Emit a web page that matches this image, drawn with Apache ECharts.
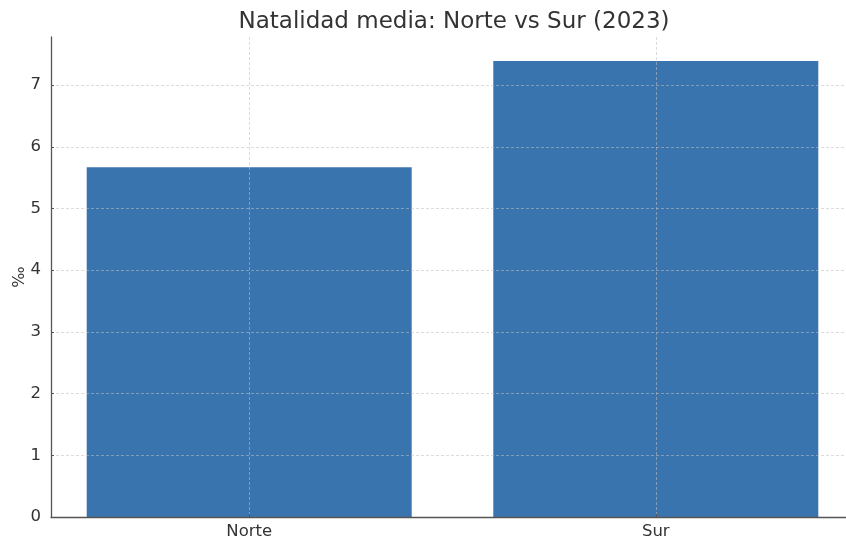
<!DOCTYPE html>
<html>
<head>
<meta charset="utf-8">
<script src="https://cdn.jsdelivr.net/npm/echarts@6/dist/echarts.min.js"></script>
<style>
  html, body { margin: 0; padding: 0; background: #fff; }
</style>
</head>
<body>
<div id="chart" style="width:846px;height:540px"></div>
<script>
  // datos
  var regiones = ['Norte', 'Sur'];
  var natalidad = [5.67, 7.39];
  var ticksY = [0, 1, 2, 3, 4, 5, 6, 7];
  var posX = [0, 1];

  var chart = echarts.init(document.getElementById('chart'));
  var font = 'DejaVu Sans';

  chart.setOption({
    animation: false,
    title: {
      text: 'Natalidad media: Norte vs Sur (2023)',
      left: 449,
      top: 6,
      textAlign: 'center',
      textStyle: { fontFamily: font, fontSize: 23, fontWeight: 'normal', color: '#333' }
    },
    grid: { left: 51, top: 37, width: 803, height: 480, containLabel: false, outerBoundsMode: 'none' },
    xAxis: {
      type: 'value',
      min: -0.4875,
      max: 1.4875,
      z: 3,
      axisLine: { onZero: false, lineStyle: { color: '#555', width: 1.3 } },
      axisTick: { show: true, inside: true, length: 3, customValues: posX, lineStyle: { color: '#555' } },
      axisLabel: {
        customValues: posX,
        margin: 6,
        fontFamily: font, fontSize: 16.5, color: '#333',
        formatter: function (v) { return regiones[Math.round(v)]; }
      },
      splitLine: { show: true, lineStyle: { color: 'rgba(190,190,190,0.7)', width: 0.8, type: [3, 2] } }
    },
    yAxis: {
      type: 'value',
      min: 0,
      max: 7.78,
      z: 3,
      name: '‰',
      nameLocation: 'middle',
      nameRotate: 90,
      nameGap: 23,
      nameMoveOverlap: false,
      nameTextStyle: { fontFamily: font, fontSize: 16, color: '#333' },
      axisLine: { show: true, onZero: false, lineStyle: { color: '#555', width: 1.3 } },
      axisTick: { show: true, inside: true, length: 3, customValues: ticksY, lineStyle: { color: '#555' } },
      axisLabel: { customValues: ticksY, margin: 10, fontFamily: font, fontSize: 16.5, color: '#333' },
      splitLine: { show: true, lineStyle: { color: 'rgba(190,190,190,0.7)', width: 0.8, type: [3, 2] } }
    },
    series: [{
      type: 'bar',
      z: 1,
      barWidth: 325,
      itemStyle: { color: '#3A74AE' },
      data: regiones.map(function (r, i) { return [posX[i], natalidad[i]]; })
    }]
  });
</script>
</body>
</html>
